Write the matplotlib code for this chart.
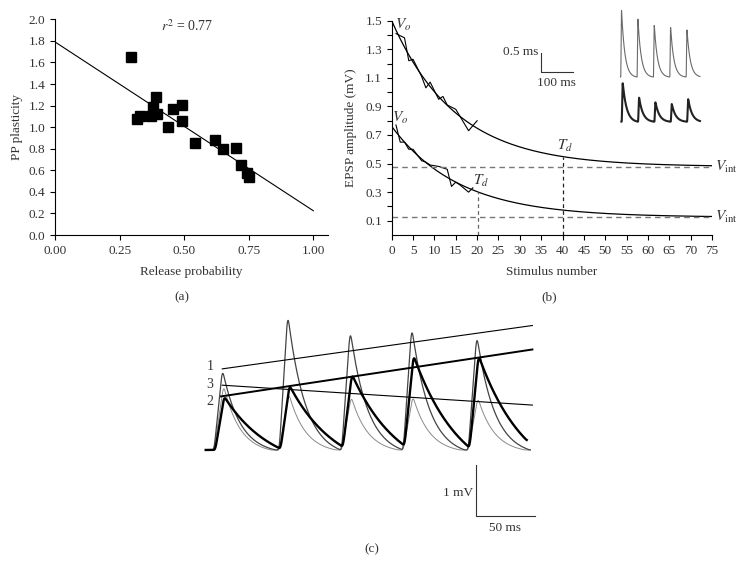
import numpy as np
import matplotlib
matplotlib.use("Agg")
import matplotlib.pyplot as plt

plt.rcParams["font.family"] = ["Liberation Serif", "DejaVu Serif"]
plt.rcParams["mathtext.fontset"] = "stix"
plt.rcParams["font.size"] = 9.5

# ---- panel (a): paired-pulse plasticity vs release probability
release_prob = [0.293, 0.319, 0.328, 0.370, 0.381, 0.391, 0.394, 0.439, 0.458,
                0.490, 0.493, 0.542, 0.619, 0.652, 0.701, 0.720, 0.742, 0.750]
pp_plasticity = [1.647, 1.075, 1.100, 1.104, 1.190, 1.283, 1.122, 1.000, 1.165,
                 1.060, 1.206, 0.850, 0.881, 0.794, 0.804, 0.649, 0.575, 0.535]
fit_intercept = 1.79
fit_slope = -1.565
r_squared = 0.77

# ---- panel (b): EPSP amplitude vs stimulus number
stim_hi = [1, 3, 4, 5, 7, 8, 9, 11, 12, 13, 15, 18, 20]
amp_hi = [1.41, 1.38, 1.22, 1.23, 1.11, 1.03, 1.07, 0.95, 0.97, 0.91, 0.88, 0.73, 0.80]
stim_lo = [1, 2, 3, 4, 5, 7, 8, 9, 11, 13, 14, 15, 16, 18, 19]
amp_lo = [0.77, 0.65, 0.65, 0.60, 0.60, 0.52, 0.51, 0.49, 0.48, 0.46, 0.34, 0.37, 0.35, 0.30, 0.33]
# exponential fits: V0, Vinf, decay constant (stimuli), Td marker
fit_v0 = [1.50, 0.76]
fit_vinf = [0.478, 0.124]
fit_tau = [15.0, 15.8]
td_marker = [40, 20.3]

# inset traces (mV above baseline, 20 Hz)
inset_onsets = [245, 295, 345, 395, 445]
inset_top_amp = [1.87, 1.63, 1.46, 1.39, 1.33]
inset_bot_amp = [1.09, 0.68, 0.55, 0.50, 0.64]

# ---- panel (c): three EPSP trains (ms, mV)
train_onsets = [0, 55.3, 108.2, 160.4, 215.5]
peaks_1 = [1.59, 2.69, 2.37, 2.43, 2.27]
peaks_2 = [1.05, 1.27, 1.49, 1.86, 1.86]
peaks_3 = [1.27, 1.11, 1.05, 1.06, 1.03]
trend_end = [2.44, 1.97, 0.88]   # value of each trend line at the right end


def epsp(t, onsets, amps, rise, tau, dur, shift=0.0, smooth=0):
    v = np.zeros_like(t)
    for on, a in zip(onsets, amps):
        s = t - on - shift
        up = (s >= 0) & (s < rise)
        v[up] += a * s[up] / rise
        u = s - rise
        dn = (u >= 0) & (u < dur)
        k = (np.exp(-u[dn] / tau) - np.exp(-dur / tau)) / (1 - np.exp(-dur / tau))
        v[dn] += a * k
    if smooth:
        w = np.hanning(smooth)
        v = np.convolve(np.pad(v, smooth, mode="edge"), w / w.sum(), mode="same")[smooth:-smooth]
    return v


fig = plt.figure(figsize=(7.4, 5.64), dpi=100)
W, H = 740.0, 564.0


def box(x0, y0, x1, y1):
    return [x0 / W, 1 - y1 / H, (x1 - x0) / W, (y1 - y0) / H]


txt = "#333333"

# ================= (a)
ax1 = fig.add_axes(box(55, 19.3, 328.3, 235))
ax1.plot(release_prob, pp_plasticity, "s", color="black", markersize=7.2)
xx = np.array([0, 1.0])
ax1.plot(xx, fit_intercept + fit_slope * xx, color="black", lw=0.8)
ax1.set_xlim(0, 1.058)
ax1.set_ylim(0, 2.0)
ax1.set_xticks([0, 0.25, 0.5, 0.75, 1.0])
ax1.set_xticklabels(["0.00", "0.25", "0.50", "0.75", "1.00"])
ax1.set_yticks(np.arange(0, 2.01, 0.2))
ax1.set_yticklabels(["%.1f" % v for v in np.arange(0, 2.01, 0.2)])
ax1.spines["top"].set_visible(False)
ax1.spines["right"].set_visible(False)
ax1.tick_params(length=3.5, width=0.8, colors="black", labelcolor=txt, labelsize=9.5)
ax1.set_xlabel("Release probability", color=txt, labelpad=7)
ax1.set_ylabel("PP plasticity", color=txt, labelpad=4)
ax1.text(0.51, 1.94, r"$r^2$ = %.2f" % r_squared, ha="center", va="center", fontsize=10, color=txt)
fig.text(182 / W, 1 - 297 / H, "(a)", ha="center", va="center", color=txt)

# ================= (b)
ax2 = fig.add_axes(box(391.7, 20.7, 712, 235))
n = np.linspace(0, 75, 300)
for v0, vi, tau in zip(fit_v0, fit_vinf, fit_tau):
    ax2.plot(n, vi + (v0 - vi) * np.exp(-n / tau), color="black", lw=0.9)
ax2.plot(stim_hi, amp_hi, color="black", lw=0.8)
ax2.plot(stim_lo, amp_lo, color="black", lw=0.8)
for vi in fit_vinf:
    ax2.plot([0, 75], [vi, vi], color="#777777", lw=1.0, dashes=(4, 3))
for i, td in enumerate(td_marker):
    top = fit_vinf[i] + (fit_v0[i] - fit_vinf[i]) * np.exp(-td / fit_tau[i])
    ax2.plot([td, td], [0, top], color="#222222" if i == 0 else "#666666", lw=0.9, dashes=(3, 2.5))
    ax2.text(td + 0.6, top + 0.02, r"$T_d$", ha="center", va="bottom", fontsize=11, color=txt)
    ax2.text(75.6, fit_vinf[i], r"$V_{\mathrm{int}}$", ha="left", va="center", fontsize=11,
             color=txt, clip_on=False)
ax2.text(2.6, 1.47, r"$V_o$", ha="center", va="center", fontsize=11, color=txt)
ax2.text(2.0, 0.82, r"$V_o$", ha="center", va="center", fontsize=11, color=txt)
ax2.set_xlim(0, 75)
ax2.set_ylim(0, 1.5)
ax2.set_xticks(np.arange(0, 76, 5))
ax2.set_yticks(np.arange(0.1, 1.51, 0.2))
ax2.set_yticklabels(["%.1f" % v for v in np.arange(0.1, 1.51, 0.2)])
ax2.set_yticks(np.arange(0.2, 1.41, 0.2), minor=True)
ax2.spines["top"].set_visible(False)
ax2.spines["right"].set_visible(False)
ax2.tick_params(which="both", length=3.5, width=0.8, colors="black", labelcolor=txt, labelsize=9.5)
ax2.set_xlabel("Stimulus number", color=txt, labelpad=7)
ax2.set_ylabel("EPSP amplitude (mV)", color=txt, labelpad=6)
fig.text(549 / W, 1 - 297 / H, "(b)", ha="center", va="center", color=txt)

# inset traces with scale bar
ins = fig.add_axes(box(535, 0, 705, 130))
ins.set_xlim(-17.4, 502.4)
ins.set_ylim(0, 3.54)
ins.axis("off")
ti = np.linspace(244, 487, 800)
ins.plot(ti, 1.444 + epsp(ti, inset_onsets, inset_top_amp, 2.0, 10.0, 47, smooth=5),
         color="#6a6a6a", lw=0.8)
tb = np.linspace(247, 487, 800)
ins.plot(tb, 0.226 + epsp(tb, inset_onsets, inset_bot_amp, 2.5, 12.0, 47, shift=3, smooth=7),
         color="#222222", lw=1.5)
ins.plot([0, 0, 100], [2.09, 1.589, 1.589], color="#333333", lw=0.8)
ins.text(-6, 2.12, "0.5 ms", ha="right", va="center", fontsize=9.5, color=txt)
ins.text(49, 1.29, "100 ms", ha="center", va="center", fontsize=9.5, color=txt)

# ================= (c)
ax3 = fig.add_axes(box(195, 300, 545, 535))
ax3.set_xlim(-16.1, 280.5)
ax3.set_ylim(-1.667, 2.94)
ax3.axis("off")
t = np.linspace(-7, 268, 2000)
ax3.plot(t, epsp(t, train_onsets, peaks_3, 8.0, 14.0, 40, smooth=30), color="#8a8a8a", lw=0.7)
ax3.plot(t, epsp(t, train_onsets, peaks_1, 7.0, 15.0, 45, smooth=30), color="#444444", lw=0.9)
tk = np.linspace(-7, 265, 2000)
ax3.plot(tk, epsp(tk, train_onsets, peaks_2, 7.5, 40.0, 50, shift=1.0, smooth=30), color="black", lw=1.7)

t_end = 269.8
for pk, ve, lw, lab in zip([peaks_1, peaks_2, peaks_3], trend_end, [0.8, 1.4, 0.8], ["1", "2", "3"]):
    t_start = train_onsets[0] + (7.0 if lab != "2" else 6.0)
    ax3.plot([t_start, t_end], [pk[0], ve], color="black", lw=lw)
ax3.text(-3.4, 1.64, "1", ha="center", va="center", fontsize=10, color=txt)
ax3.text(-3.4, 1.28, "3", ha="center", va="center", fontsize=10, color=txt)
ax3.text(-3.4, 0.95, "2", ha="center", va="center", fontsize=10, color=txt)

# scale bar
ax3.plot([221.8, 221.8, 271.8], [-0.294, -1.294, -1.294], color="#333333", lw=0.8)
ax3.text(219.5, -0.84, "1 mV", ha="right", va="center", fontsize=9.5, color=txt)
ax3.text(246.8, -1.52, "50 ms", ha="center", va="center", fontsize=9.5, color=txt)
fig.text(372 / W, 1 - 549 / H, "(c)", ha="center", va="center", color=txt)

fig.savefig("out.png", dpi=100)
